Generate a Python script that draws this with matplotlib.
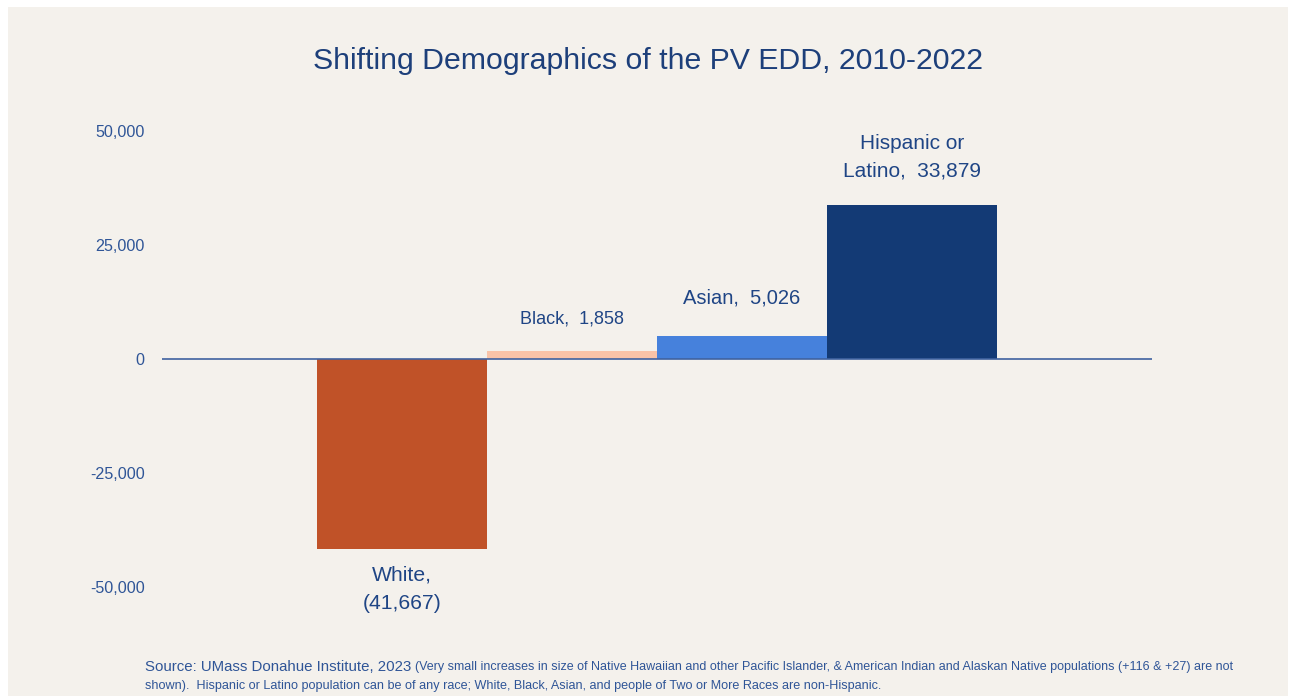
import matplotlib
matplotlib.use("Agg")
import matplotlib.pyplot as plt
from matplotlib.patches import Rectangle
from matplotlib.ticker import FuncFormatter

# ---- data ----
categories = ["White", "Black", "Asian", "Hispanic or Latino"]
changes = [-41667, 1858, 5026, 33879]
labels = ["White,\n(41,667)", "Black,  1,858", "Asian,  5,026", "Hispanic or\nLatino,  33,879"]
label_sizes = [15.2, 13, 14.5, 15]
label_offsets_pt = [-29.0, 22.6, 27.6, 34.0]
bar_colors = ["#C05228", "#F9C3A8", "#4681DC", "#133A75"]
yticks = [-50000, -25000, 0, 25000, 50000]

BG = "#F4F1EC"
TITLE_C = "#1D3F7A"
LABEL_C = "#1F4585"
TICK_C = "#2F5597"

plt.rcParams["font.family"] = ["Liberation Sans", "DejaVu Sans"]

fig = plt.figure(figsize=(12.96, 6.96), dpi=100)
fig.patch.set_facecolor("white")
W, H = 1296, 696
fig.patches.append(Rectangle((8 / W, 0), (1288 - 8) / W, (696 - 7) / H,
                             transform=fig.transFigure, facecolor=BG,
                             edgecolor="none", zorder=-10))

# axes: x 162..1152, y 131..587 (pixels)
ax = fig.add_axes([162 / W, 1 - 587 / H, (1152 - 162) / W, (587 - 131) / H])
ax.set_facecolor("none")
x = list(range(len(categories)))
ax.bar(x, changes, width=1.0, color=bar_colors, edgecolor="none", zorder=2)
ax.axhline(0, color="#3F62A0", lw=1.2, zorder=3)
ax.set_xlim(-1.41, 4.41)
ax.set_ylim(-50000, 50000)
ax.set_yticks(yticks)
ax.yaxis.set_major_formatter(FuncFormatter(lambda v, p: f"{int(v):,}"))
ax.tick_params(axis="y", length=0, pad=12.5, labelsize=11.6, labelcolor=TICK_C)
ax.set_xticks([])
for s in ax.spines.values():
    s.set_visible(False)

for xi, v, lab, fs, off in zip(x, changes, labels, label_sizes, label_offsets_pt):
    ax.annotate(lab, (xi, v), xytext=(0, off), textcoords="offset points",
                ha="center", va="center", fontsize=fs, color=LABEL_C, linespacing=1.6)

fig.text(0.5, 1 - 61 / H, "Shifting Demographics of the PV EDD, 2010-2022",
         ha="center", va="center", fontsize=21.8, color=TITLE_C)

t1 = fig.text(145 / W, 1 - 667 / H, "Source: UMass Donahue Institute, 2023 ",
              ha="left", va="center", fontsize=10.8, color=TICK_C)
fig.text(145 / W, 1 - 686 / H,
         "shown).  Hispanic or Latino population can be of any race; White, Black, Asian, and people of Two or More Races are non-Hispanic.",
         ha="left", va="center", fontsize=9.1, color=TICK_C)
ax.annotate("(Very small increases in size of Native Hawaiian and other Pacific Islander, & American Indian and Alaskan Native populations (+116 & +27) are not",
            xy=(1, 0.5), xycoords=t1, ha="left", va="center", fontsize=9.0, color=TICK_C,
            annotation_clip=False)

fig.savefig("out.png", dpi=100, facecolor=fig.get_facecolor())
